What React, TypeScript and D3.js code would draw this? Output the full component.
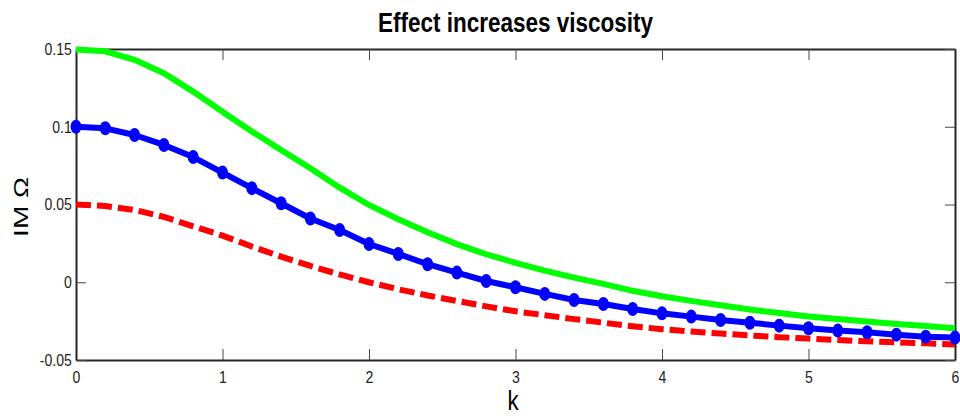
import React, { useEffect, useRef } from 'react';
import * as d3 from 'd3';

// k values, step 0.2 from 0 to 6
const kValues = [0, 0.2, 0.4, 0.6, 0.8, 1.0, 1.2, 1.4, 1.6, 1.8, 2.0, 2.2, 2.4, 2.6, 2.8, 3.0,
    3.2, 3.4, 3.6, 3.8, 4.0, 4.2, 4.4, 4.6, 4.8, 5.0, 5.2, 5.4, 5.6, 5.8, 6.0];

const greenValues = [0.1497, 0.1485, 0.143, 0.1344, 0.1226, 0.1097, 0.097, 0.085, 0.0733, 0.0608, 0.0497,
    0.0405, 0.0322, 0.0245, 0.018, 0.0125, 0.0075, 0.003, -0.001, -0.0055, -0.009,
    -0.012, -0.0148, -0.0175, -0.0198, -0.022, -0.0237, -0.0253, -0.0268, -0.0282, -0.0296];

const blueValues = [0.1, 0.099, 0.0947, 0.0883, 0.0805, 0.0705, 0.0605, 0.0508, 0.041, 0.0336, 0.0246,
    0.0182, 0.0116, 0.0062, 0.0008, -0.0032, -0.0075, -0.0114, -0.014, -0.0172, -0.02,
    -0.0221, -0.0243, -0.026, -0.0279, -0.0296, -0.0311, -0.0322, -0.0337, -0.035, -0.0356];

const redValues = [0.05, 0.049, 0.0465, 0.042, 0.036, 0.03, 0.023, 0.0165, 0.0105, 0.005, 0.0,
    -0.0045, -0.0085, -0.012, -0.0155, -0.0187, -0.0212, -0.0237, -0.026, -0.0283, -0.0302,
    -0.0317, -0.033, -0.0342, -0.0353, -0.0362, -0.0371, -0.038, -0.0387, -0.0393, -0.04];

const xTicks = [0, 1, 2, 3, 4, 5, 6];
const yTicks = [-0.05, 0, 0.05, 0.1, 0.15];

const title = 'Effect increases viscosity';
const xLabel = 'k';
const yLabel = 'IM Ω';

const App = () => {
    const ref = useRef<SVGSVGElement>(null);

    const graph = () => {
        const svg = d3.select(ref.current);
        svg.selectAll('*').remove();

        const width = 960,
            height = 418,
            margin = { top: 49, right: 5, bottom: 58, left: 76 };

        const x = d3.scaleLinear().domain([0, 6]).range([margin.left, width - margin.right]);
        const y = d3.scaleLinear().domain([-0.05, 0.15]).range([height - margin.bottom, margin.top]);

        const fmt = (d: number) => String(+d.toFixed(2));
        const font = 'Liberation Sans, Arial, sans-serif';

        // axes box, ticks pointing inward
        svg.append('g')
            .attr('transform', `translate(0, ${y(-0.05)})`)
            .call(d3.axisBottom(x).tickValues(xTicks).tickFormat(fmt as any).tickSizeInner(-11).tickSizeOuter(0).tickPadding(11));
        svg.append('g')
            .attr('transform', `translate(0, ${y(0.15)})`)
            .call(d3.axisTop(x).tickValues(xTicks).tickFormat(() => '').tickSizeInner(-11).tickSizeOuter(0));
        svg.append('g')
            .attr('transform', `translate(${x(0)}, 0)`)
            .call(d3.axisLeft(y).tickValues(yTicks).tickFormat(fmt as any).tickSizeInner(-10).tickSizeOuter(0).tickPadding(5));
        svg.append('g')
            .attr('transform', `translate(${x(6)}, 0)`)
            .call(d3.axisRight(y).tickValues(yTicks).tickFormat(() => '').tickSizeInner(-10).tickSizeOuter(0));

        svg.selectAll('.domain').attr('stroke', '#262626').attr('stroke-width', 2);
        svg.selectAll('.tick line').attr('stroke', '#444').attr('stroke-width', 1);
        svg.selectAll('.tick text')
            .attr('fill', '#222')
            .style('font-family', font)
            .style('font-size', '16.5px')
            .attr('transform', 'scale(0.85,1)');

        const line = d3.line<number>()
            .x((d, i) => x(kValues[i]))
            .y(d => y(d));

        svg.append('path')
            .datum(greenValues)
            .attr('fill', 'none')
            .attr('stroke', '#00ff00')
            .attr('stroke-width', 6)
            .attr('d', line);

        svg.append('path')
            .datum(redValues)
            .attr('fill', 'none')
            .attr('stroke', '#ff0000')
            .attr('stroke-width', 6)
            .attr('stroke-dasharray', '15,6')
            .attr('d', line);

        svg.append('path')
            .datum(blueValues)
            .attr('fill', 'none')
            .attr('stroke', '#0000ff')
            .attr('stroke-width', 6)
            .attr('stroke-linejoin', 'round')
            .attr('d', line);

        svg.selectAll('ellipse.marker')
            .data(blueValues)
            .enter()
            .append('ellipse')
            .attr('class', 'marker')
            .attr('cx', (d, i) => x(kValues[i]))
            .attr('cy', d => y(d))
            .attr('rx', 5.5)
            .attr('ry', 7)
            .attr('fill', '#0000ff');

        svg.append('text')
            .attr('x', (x(0) + x(6)) / 2)
            .attr('y', 32)
            .attr('text-anchor', 'middle')
            .attr('textLength', 275)
            .attr('lengthAdjust', 'spacingAndGlyphs')
            .style('font-family', font)
            .style('font-weight', '700')
            .style('font-size', '27px')
            .text(title);

        svg.append('text')
            .attr('transform', `translate(${x(0) + 437}, 410) scale(0.8,1)`)
            .attr('text-anchor', 'middle')
            .style('font-family', font)
            .style('font-size', '28px')
            .text(xLabel);

        svg.append('text')
            .attr('transform', 'translate(28, 207) scale(0.75,1) rotate(-90)')
            .attr('text-anchor', 'middle')
            .style('font-family', font)
            .style('font-size', '28px')
            .text(yLabel);
    };

    useEffect(() => graph());

    return (
        <svg ref={ref} width="960" height="418"
            style={{ position: 'absolute', left: 0, top: 0, background: '#fff' }}></svg>
    );
};

export default App;
